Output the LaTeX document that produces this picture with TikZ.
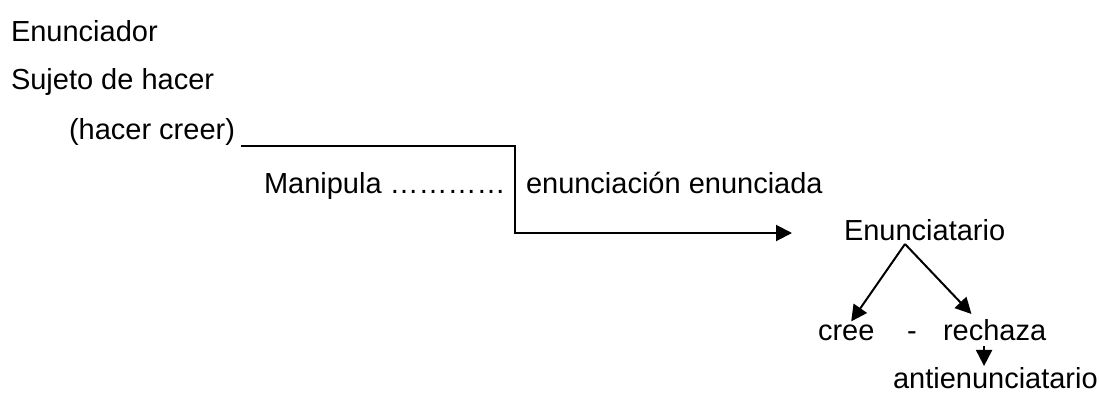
\documentclass[tikz,border=0pt]{standalone}
\usepackage{fontspec}
\setmainfont{Liberation Sans}
\usepackage{xcolor}
\usepackage{tikz}
\usetikzlibrary{calc,arrows.meta}

\tikzset{
	txt/.style={inner sep=0pt, font=\fontsize{14.5}{17}\selectfont},
	arr/.style={-{Triangle[length=8pt,width=8pt]}},
}

\begin{document}
\begin{tikzpicture}[x=0.5pt,y=-0.5pt,line width=1pt]
		\useasboundingbox (0,0) rectangle (1099,392);
		% left column
		\node[txt,anchor=base west] (enun) at (10,41) {Enunciador};
		\node[txt,anchor=base west] (suj) at (10,89) {Sujeto de hacer};
		\node[txt,anchor=base west] (hc) at (68,139) {(hacer creer)};
		\node[txt,anchor=base west] (manip) at (263,193) {Manipula …………};
		\node[txt,anchor=base west] (eed) at (525,193) {enunciación enunciada};
		% right side
		\node[txt,anchor=base west] (tario) at (843,240) {Enunciatario};
		\node[txt,anchor=base west] (cree) at (817,340) {cree};
		\node[txt,anchor=base] (guion) at (912,340) {-};
		\node[txt,anchor=base west] (rech) at (942,340) {rechaza};
		\node[txt,anchor=base west] (anti) at (892,388) {antienunciatario};
		% the bent line
		\coordinate (start) at (241,146);
		\coordinate (drop) at (515,233);
		\coordinate (tip) at (792,233);
		\draw[arr] (start) -| (drop) -- (tip);
		% v from Enunciatario
		\coordinate (apex) at (905,244);
		\draw[arr] (apex) -- ([xshift=2.5pt,yshift=1pt]cree.north);
		\draw[arr] (apex) -- ($(rech.north west)!0.28!(rech.north east)+(0,-4)$);
		\coordinate (down) at ($(rech.south west)!0.4!(rech.south east)+(0,5)$);
		\draw[arr] (down) -- (down |- anti.north);
	\end{tikzpicture}
\end{document}
